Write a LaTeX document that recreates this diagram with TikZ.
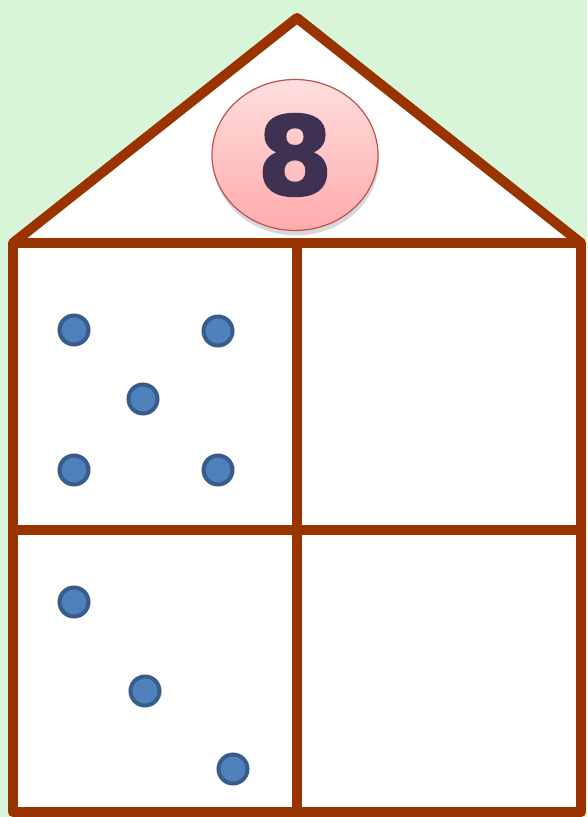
\documentclass[tikz,border=0pt]{standalone}
\usepackage{fontspec}
\usetikzlibrary{positioning,shadows,shapes.geometric}
\newfontfamily\digitfont[FakeBold=2.5]{DejaVu Sans Bold}
\definecolor{wallbrown}{RGB}{153,51,0}
\definecolor{skygreen}{RGB}{217,245,217}
\definecolor{dotfill}{RGB}{79,129,189}
\definecolor{dotline}{RGB}{56,93,138}
\definecolor{badgeline}{RGB}{192,80,77}
\definecolor{numink}{RGB}{63,49,81}
\tikzset{
  wall/.style={wallbrown, line width=10pt, line join=round},
  counter/.style={circle, fill=dotfill, draw=dotline, line width=4pt, minimum size=29pt, inner sep=0pt},
  badge/.style={ellipse, draw=badgeline, line width=1.2pt, top color=red!13, bottom color=red!33,
    minimum width=166pt, minimum height=151pt, inner sep=0pt,
    drop shadow={shadow xshift=1pt, shadow yshift=-5pt, opacity=0.3}}
}
\begin{document}
\begin{tikzpicture}[x=1pt, y=-1pt]
  \useasboundingbox (0,0) rectangle (587,817);
  \fill[skygreen] (0,0) rectangle (587,817);
  % --- house
  \fill[white] (13,243) -- (297,18) -- (581,243) -- (581,812) -- (13,812) -- cycle;
  \draw[wall] (13,243) -- (297,18) -- (581,243);
  \draw[wall] (13,243) rectangle (581,812);
  \draw[wall] (297,243) -- (297,812);
  \draw[wall] (13,530) -- (581,530);
  % --- number on the roof
  \node[badge] (num) at (295,155) {\digitfont\fontsize{108}{108}\selectfont\color{numink}8};
  % --- upper left room
  \node[counter] (a1) at (74,330) {};
  \node[counter] (a2) at (218,331) {};
  \node[counter] (a3) at (143,399) {};
  \node[counter] (a4) at (74,470) {};
  \node[counter] (a5) at (218,470) {};
  % --- lower left room
  \node[counter] (b1) at (74,602) {};
  \node[counter] (b2) at (145,691) {};
  \node[counter] (b3) at (233,769) {};
\end{tikzpicture}
\end{document}
